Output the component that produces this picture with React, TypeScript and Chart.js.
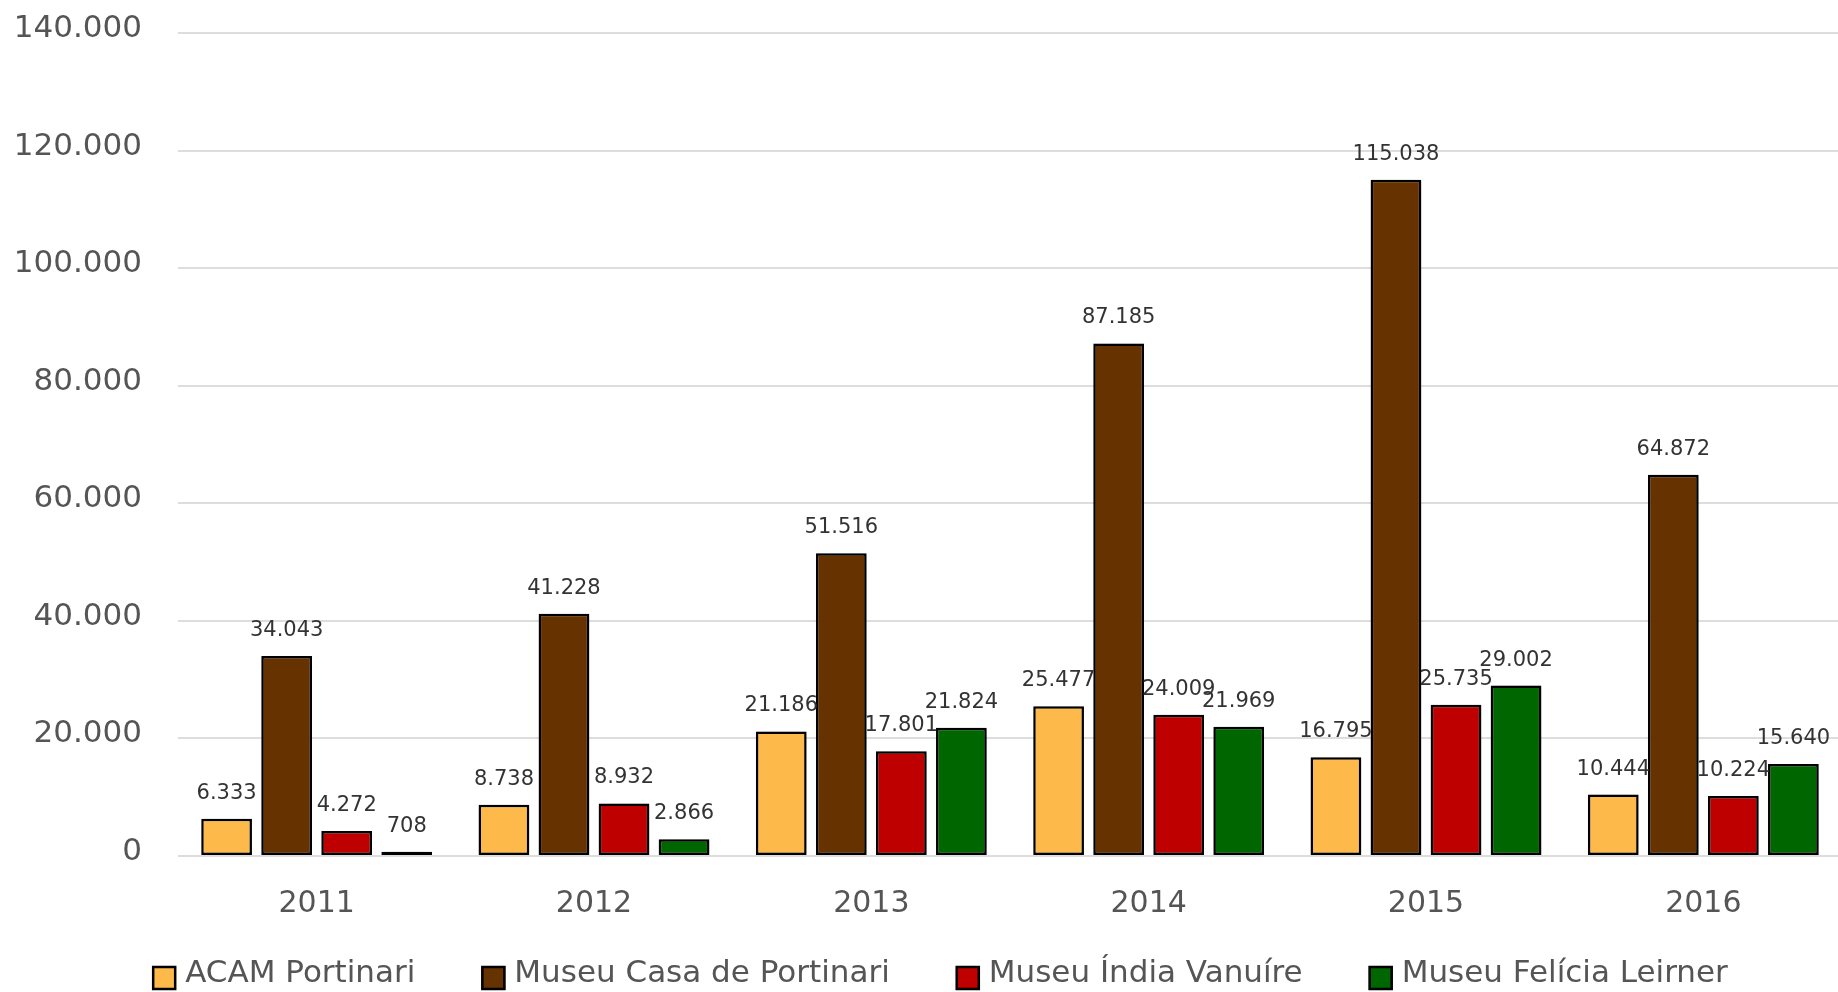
import React, { useEffect, useRef } from "react";
import { Chart, registerables } from "chart.js";

Chart.register(...registerables);

const categories = ["2011", "2012", "2013", "2014", "2015", "2016"];
const seriesNames = ["ACAM Portinari", "Museu Casa de Portinari", "Museu Índia Vanuíre", "Museu Felícia Leirner"];
const acamPortinari = [6333, 8738, 21186, 25477, 16795, 10444];
const casaPortinari = [34043, 41228, 51516, 87185, 115038, 64872];
const indiaVanuire = [4272, 8932, 17801, 24009, 25735, 10224];
const feliciaLeirner = [708, 2866, 21824, 21969, 29002, 15640];
const seriesColors = ["#FDBA4A", "#663300", "#BF0000", "#006600"];
const yMin = 0;
const yMax = 140000;
const yStep = 20000;

const FONT = "'DejaVu Sans', sans-serif";

const fmt = (v: number) => String(Math.round(v)).replace(/\B(?=(\d{3})+(?!\d))/g, ".");

const shadowPlugin = {
  id: "barShadow",
  beforeDatasetsDraw(chart: any) {
    const ctx = chart.ctx;
    ctx.save();
    ctx.shadowColor = "rgba(0,0,0,0.28)";
    ctx.shadowBlur = 6;
    ctx.shadowOffsetX = 0;
    ctx.shadowOffsetY = 1;
  },
  afterDatasetsDraw(chart: any) {
    chart.ctx.restore();
  },
};

const valueLabelPlugin = {
  id: "valueLabels",
  afterDatasetsDraw(chart: any) {
    const ctx = chart.ctx;
    ctx.save();
    ctx.font = `21px ${FONT}`;
    ctx.fillStyle = "#333333";
    ctx.textAlign = "center";
    ctx.textBaseline = "alphabetic";
    chart.data.datasets.forEach((ds: any, i: number) => {
      const meta = chart.getDatasetMeta(i);
      meta.data.forEach((bar: any, j: number) => {
        ctx.fillText(fmt(ds.data[j]), bar.x, bar.y - 20);
      });
    });
    ctx.restore();
  },
};

const legendPlugin = {
  id: "customLegend",
  afterDraw(chart: any) {
    const ctx = chart.ctx;
    ctx.save();
    ctx.font = `31px ${FONT}`;
    const box = 24;
    const textGap = 9;
    const itemGap = 66;
    const widths = chart.data.datasets.map((ds: any) => box + textGap + ctx.measureText(ds.label).width);
    const total = widths.reduce((a: number, b: number) => a + b, 0) + itemGap * (widths.length - 1);
    let x = chart.width / 2 - total / 2 + 2;
    const textY = 974;
    const boxTop = 966;
    chart.data.datasets.forEach((ds: any, i: number) => {
      ctx.fillStyle = ds.backgroundColor;
      ctx.fillRect(x, boxTop, box, box);
      ctx.lineWidth = 2.5;
      ctx.strokeStyle = "#000000";
      ctx.strokeRect(x + 1, boxTop + 1, box - 2, box - 2);
      ctx.fillStyle = "#555555";
      ctx.textAlign = "left";
      ctx.textBaseline = "middle";
      ctx.fillText(ds.label, x + box + textGap, textY);
      x += widths[i] + itemGap;
    });
    ctx.restore();
  },
};

export default function App() {
  const ref = useRef<HTMLCanvasElement>(null);
  useEffect(() => {
    if (!ref.current) return;
    const seriesData = [acamPortinari, casaPortinari, indiaVanuire, feliciaLeirner];
    const chart = new Chart(ref.current, {
      type: "bar",
      data: {
        labels: categories,
        datasets: seriesNames.map((name, i) => ({
          label: name,
          data: seriesData[i],
          backgroundColor: seriesColors[i],
          borderColor: "#000000",
          borderWidth: 2.5,
          borderSkipped: false,
          categoryPercentage: 0.866,
          barPercentage: 0.845,
        })),
      },
      options: {
        responsive: false,
        animation: false,
        layout: { padding: { left: 0, right: 34, top: 33, bottom: 0 } },
        plugins: {
          legend: { display: false },
          tooltip: { enabled: false },
          title: { display: false },
        },
        scales: {
          x: {
            grid: { display: false, drawTicks: false },
            border: { display: false },
            ticks: { color: "#555555", font: { family: FONT, size: 30 }, padding: 30 },
            afterFit: (scale: any) => {
              scale.height = 136;
              scale.paddingLeft = 0;
              scale.paddingRight = 0;
            },
          },
          y: {
            min: yMin,
            max: yMax,
            grid: { color: "#dddddd", lineWidth: 2, drawTicks: false },
            border: { display: false },
            ticks: {
              stepSize: yStep,
              color: "#555555",
              font: { family: FONT, size: 31 },
              padding: 36,
              labelOffset: -4,
              callback: (v: any) => fmt(Number(v)),
            },
            afterFit: (scale: any) => {
              scale.width = 178;
              scale.paddingTop = 0;
              scale.paddingBottom = 0;
            },
          },
        },
      },
      plugins: [shadowPlugin, valueLabelPlugin, legendPlugin],
    });
    return () => chart.destroy();
  }, []);
  return (
    <div style={{ position: "fixed", left: 0, top: 0, width: 1838, height: 992, overflow: "hidden", background: "#ffffff" }}>
      <canvas ref={ref} width={1876} height={992} style={{ display: "block", width: 1876, height: 992 }} />
    </div>
  );
}
